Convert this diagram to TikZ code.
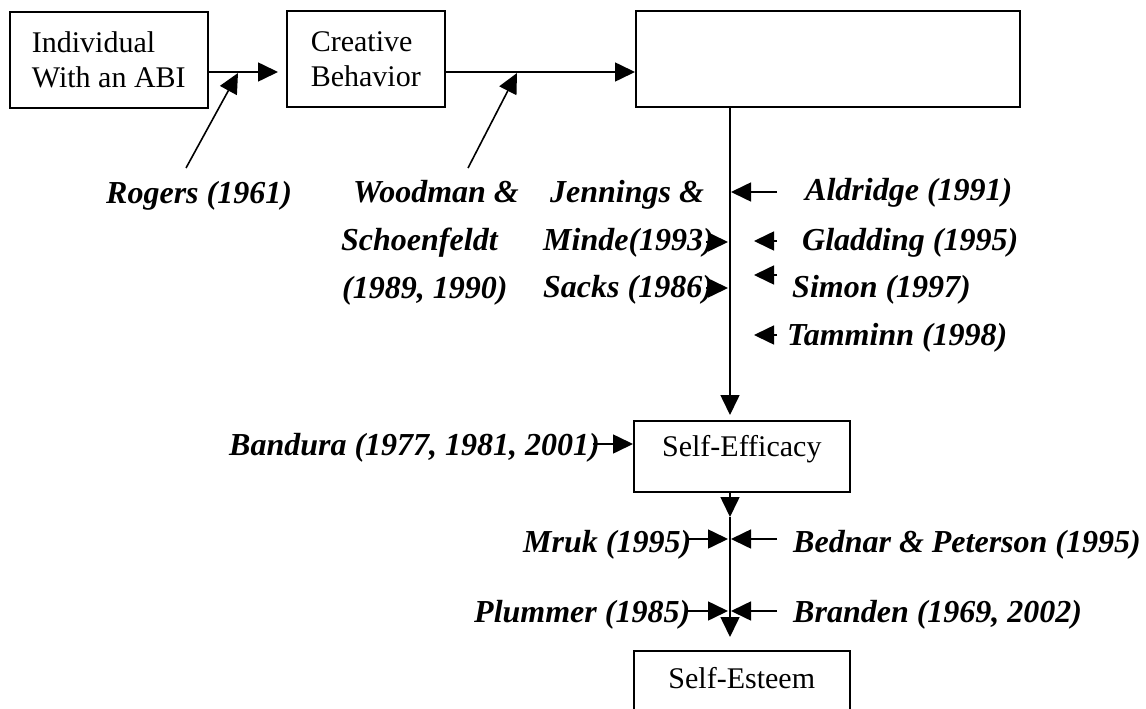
\documentclass[tikz,border=0pt]{standalone}
\usepackage{fontspec}
\setmainfont{Liberation Serif}
\usetikzlibrary{arrows.meta}
\tikzset{
  box/.style={draw, line width=1.6pt, inner sep=0pt, align=left, font=\fontsize{30}{35}\selectfont},
  cite/.style={inner sep=0pt, anchor=base west, font=\fontsize{32}{38}\selectfont\bfseries\itshape},
  arr/.style={line width=1.6pt, -{Triangle[length=20pt,width=19pt]}},
  ln/.style={line width=1.6pt}
}
\begin{document}
\begin{tikzpicture}[x=1pt,y=-1pt]
\useasboundingbox (0,0) rectangle (1146,709);
% boxes
\node[box, minimum width=198pt, minimum height=96pt, anchor=north west] (box1) at (9,11) {Individual\\With an ABI};
\node[box, minimum width=158pt, minimum height=96pt, anchor=north west] (box2) at (286,10) {Creative\\Behavior};
\node[box, minimum width=384pt, minimum height=96pt, anchor=north west] (box3) at (635,10) {};
\node[box, minimum width=216pt, minimum height=71pt, text height=22pt, text depth=21pt, anchor=north west] (eff) at (633,420) {Self-Efficacy};
\node[box, minimum width=216pt, minimum height=66pt, text height=22pt, text depth=12pt, anchor=north west] (est) at (633,650) {Self-Esteem};
% citations
\node[cite] (rog) at (106,203) {Rogers (1961)};
\node[cite] (wood1) at (353,202) {Woodman \&};
\node[cite] (wood2) at (341,250) {Schoenfeldt};
\node[cite] (wood3) at (342,298) {(1989, 1990)};
\node[cite] (jen1) at (550,202) {Jennings \&};
\node[cite] (jen2) at (543,250) {Minde(1993)};
\node[cite] (jen3) at (543,297) {Sacks (1986)};
\node[cite] (ald) at (805,200) {Aldridge (1991)};
\node[cite] (glad) at (802,250) {Gladding (1995)};
\node[cite] (sim) at (792,297) {Simon (1997)};
\node[cite] (tam) at (787,345) {Tamminn (1998)};
\node[cite] (band) at (229,455) {Bandura (1977, 1981, 2001)};
\node[cite] (mruk) at (523,552) {Mruk (1995)};
\node[cite] (plum) at (474,622) {Plummer (1985)};
\node[cite] (bed) at (793,552) {Bednar \& Peterson (1995)};
\node[cite] (bran) at (793,622) {Branden (1969, 2002)};
% helper coordinates
\coordinate (y72) at (0,72);
\coordinate (vx) at (730,0);
\coordinate (rogfoot) at (186,168);
\coordinate (rogtip) at (238,73);
\coordinate (woodfoot) at (468,168);
\coordinate (woodtip) at (517,73);
\coordinate (aldA) at (777,192);  \coordinate (aldB) at (731,192);
\coordinate (gladA) at (777,241); \coordinate (gladB) at (754,241);
\coordinate (simA) at (777,275);  \coordinate (simB) at (754,275);
\coordinate (tamA) at (777,335);  \coordinate (tamB) at (754,335);
\coordinate (minA) at (706,242);  \coordinate (minB) at (728,242);
\coordinate (sacA) at (706,288);  \coordinate (sacB) at (728,288);
\coordinate (bandA) at (593,444);
\coordinate (mrukA) at (687,539); \coordinate (mrukB) at (728,539);
\coordinate (bedA) at (777,539);  \coordinate (bedB) at (731,539);
\coordinate (plumA) at (687,611); \coordinate (plumB) at (728,611);
\coordinate (branA) at (777,611); \coordinate (branB) at (731,611);
\coordinate (mid) at (730,517);
% main flow
\draw[arr, shorten >=8pt] (box1.east |- y72) -- (box2.west |- y72);
\draw[arr] (box2.east |- y72) -- (box3.west |- y72);
\draw[arr, shorten >=5pt] (vx |- box3.south) -- (vx |- eff.north);
\draw[arr] (vx |- eff.south) -- (mid);
\draw[arr, shorten >=13pt] (mid) -- (vx |- est.north);
% influences
\draw[arr] (rogfoot) -- (rogtip);
\draw[arr] (woodfoot) -- (woodtip);
\draw[arr] (aldA) -- (aldB);
\draw[arr] (gladA) -- (gladB);
\draw[arr] (simA) -- (simB);
\draw[arr] (tamA) -- (tamB);
\draw[arr] (minA) -- (minB);
\draw[arr] (sacA) -- (sacB);
\draw[arr] (bandA) -- (eff.west |- bandA);
\draw[arr] (mrukA) -- (mrukB);
\draw[arr] (bedA) -- (bedB);
\draw[arr] (plumA) -- (plumB);
\draw[arr] (branA) -- (branB);
\end{tikzpicture}
\end{document}
